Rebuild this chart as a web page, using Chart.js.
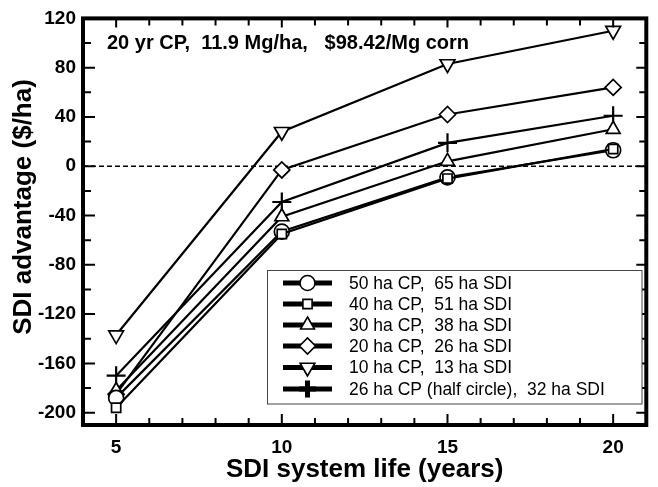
<!DOCTYPE html>
<html>
<head>
<meta charset="utf-8">
<script src="https://cdn.jsdelivr.net/npm/chart.js@4.4.1/dist/chart.umd.min.js"></script>
<style>
  html, body { margin: 0; padding: 0; background: #ffffff; }
  #wrap { width: 658px; height: 487px; position: relative; }
</style>
</head>
<body>
<div id="wrap"><canvas id="c" width="658" height="487"></canvas></div>
<script>
// ---- data ----
const years = [5, 10, 15, 20];
const labels = [
  '50 ha CP,  65 ha SDI',
  '40 ha CP,  51 ha SDI',
  '30 ha CP,  38 ha SDI',
  '20 ha CP,  26 ha SDI',
  '10 ha CP,  13 ha SDI',
  '26 ha CP (half circle),  32 ha SDI'
];
const cp50 = [-188, -53, -9, 13];
const cp40 = [-196, -55, -10, 14];
const cp30 = [-182, -41, 4, 30];
const cp20 = [-185, -3, 42, 64];
const cp10 = [-137, 28, 83, 110];
const cpHalf = [-170, -29, 19, 41];
const titleText = '20 yr CP,  11.9 Mg/ha,   $98.42/Mg corn';
const xTitle = 'SDI system life (years)';
const yTitle = 'SDI advantage ($/ha)';

const seriesValues = [cp50, cp40, cp30, cp20, cp10, cpHalf];
const styles = [
  { pointStyle: 'circle', rotation: 0, radius: 7.5, order: 2 },
  { pointStyle: 'rect', rotation: 0, radius: 6.5, order: 1 },
  { pointStyle: 'triangle', rotation: 0, radius: 8, order: 3 },
  { pointStyle: 'rectRot', rotation: 0, radius: 8, order: 4 },
  { pointStyle: 'triangle', rotation: 180, radius: 8.5, order: 5 },
  { pointStyle: 'cross', rotation: 0, radius: 9.5, order: 6 }
];

const datasets = seriesValues.map((vals, i) => ({
  label: labels[i],
  data: years.map((x, k) => ({ x: x, y: vals[k] })),
  order: styles[i].order,
  borderColor: '#000',
  borderWidth: 2.2,
  backgroundColor: '#fff',
  pointBackgroundColor: '#fff',
  pointBorderColor: '#000',
  pointBorderWidth: styles[i].pointStyle === 'cross' ? 2.2 : 1.7,
  pointStyle: styles[i].pointStyle,
  pointRotation: styles[i].rotation,
  pointRadius: styles[i].radius,
  pointHoverRadius: styles[i].radius,
  tension: 0,
  fill: false
}));

const FONT = "'Liberation Sans', Arial, Helvetica, sans-serif";

const decor = {
  id: 'decor',
  beforeDatasetsDraw(chart) {
    const { ctx, chartArea: a, scales } = chart;
    const y0 = scales.y.getPixelForValue(0);
    ctx.save();
    ctx.strokeStyle = '#000';
    ctx.lineWidth = 1.5;
    ctx.setLineDash([5, 3]);
    ctx.beginPath();
    ctx.moveTo(a.left, y0);
    ctx.lineTo(a.right, y0);
    ctx.stroke();
    ctx.restore();
  },
  afterDraw(chart) {
    const { ctx, chartArea: a, scales } = chart;
    ctx.save();
    // ticks
    ctx.strokeStyle = '#000';
    ctx.lineWidth = 2;
    ctx.setLineDash([]);
    scales.x.ticks.forEach(t => {
      const px = scales.x.getPixelForValue(t.value);
      const major = t.value % 5 === 0;
      const len = major ? 11 : 7;
      ctx.beginPath();
      ctx.moveTo(px, a.bottom); ctx.lineTo(px, a.bottom - len);
      ctx.moveTo(px, a.top); ctx.lineTo(px, a.top + (major ? 9 : 7));
      ctx.stroke();
    });
    scales.y.ticks.forEach(t => {
      const py = scales.y.getPixelForValue(t.value);
      const major = t.value % 40 === 0;
      ctx.beginPath();
      ctx.moveTo(a.left, py); ctx.lineTo(a.left + (major ? 12 : 8), py);
      ctx.moveTo(a.right, py); ctx.lineTo(a.right - (major ? 10 : 7), py);
      ctx.stroke();
    });
    // frame
    ctx.lineWidth = 4;
    ctx.strokeRect(a.left, a.top, a.right - a.left, a.bottom - a.top);

    // y axis title
    ctx.fillStyle = '#000';
    ctx.save();
    ctx.translate(24, 207);
    ctx.rotate(-Math.PI / 2);
    ctx.font = 'bold 26px ' + FONT;
    ctx.textAlign = 'center';
    ctx.textBaseline = 'middle';
    ctx.fillText(yTitle, 0, 0);
    ctx.restore();

    // title inside plot
    ctx.font = 'bold 20px ' + FONT;
    ctx.textAlign = 'left';
    ctx.textBaseline = 'alphabetic';
    ctx.fillText(titleText, 107, 49);

    // legend
    const bx = 267.5, by = 270.5, bw = 374.5, bh = 133.5;
    ctx.fillStyle = '#fff';
    ctx.fillRect(bx, by, bw, bh);
    ctx.strokeStyle = '#444';
    ctx.lineWidth = 1;
    ctx.strokeRect(bx, by, bw, bh);
    const rows = [283, 304, 325, 346, 367.5, 389];
    chart.data.datasets.forEach((ds, i) => {
      const ry = rows[i];
      ctx.strokeStyle = '#000';
      ctx.lineWidth = 5;
      ctx.beginPath();
      ctx.moveTo(283, ry); ctx.lineTo(332, ry);
      ctx.stroke();
      ctx.fillStyle = '#fff';
      ctx.strokeStyle = '#000';
      ctx.lineWidth = ds.pointStyle === 'cross' ? 5 : 1.6;
      Chart.helpers.drawPoint(ctx, {
        pointStyle: ds.pointStyle,
        radius: ds.pointStyle === 'cross' ? 8.5 : ds.pointRadius,
        rotation: ds.pointRotation,
        borderWidth: ctx.lineWidth
      }, 307.5, ry);
      ctx.fillStyle = '#000';
      ctx.font = '17.5px ' + FONT;
      ctx.textBaseline = 'middle';
      ctx.fillText(ds.label, 349, ry + 1);
    });
    ctx.restore();
  }
};

new Chart(document.getElementById('c'), {
  type: 'line',
  data: { datasets: datasets },
  options: {
    responsive: false,
    animation: false,
    devicePixelRatio: 1,
    layout: { padding: { top: 16, right: 3, left: 0, bottom: 0 } },
    plugins: { legend: { display: false }, tooltip: { enabled: false } },
    scales: {
      x: {
        type: 'linear',
        min: 4, max: 21,
        afterFit(s) { s.height = 62; },
        grid: { display: false, drawTicks: false },
        border: { display: false },
        ticks: {
          stepSize: 1, includeBounds: false, autoSkip: false, maxRotation: 0,
          padding: 11, color: '#000',
          font: { family: FONT, size: 19, weight: 'bold' },
          callback: v => (v % 5 === 0 ? String(v) : '')
        },
        title: {
          display: true, text: xTitle, color: '#000',
          font: { family: FONT, size: 26, weight: 'bold' },
          padding: { top: 0, bottom: 2 }
        }
      },
      y: {
        type: 'linear',
        min: -210, max: 120,
        afterFit(s) { s.width = 83; },
        grid: { display: false, drawTicks: false },
        border: { display: false },
        ticks: {
          stepSize: 20, includeBounds: false, autoSkip: false,
          padding: 7, color: '#000',
          font: { family: FONT, size: 19, weight: 'bold' },
          callback: v => (v % 40 === 0 ? String(v) : '')
        },
        title: { display: false }
      }
    }
  },
  plugins: [decor]
});
</script>
</body>
</html>
